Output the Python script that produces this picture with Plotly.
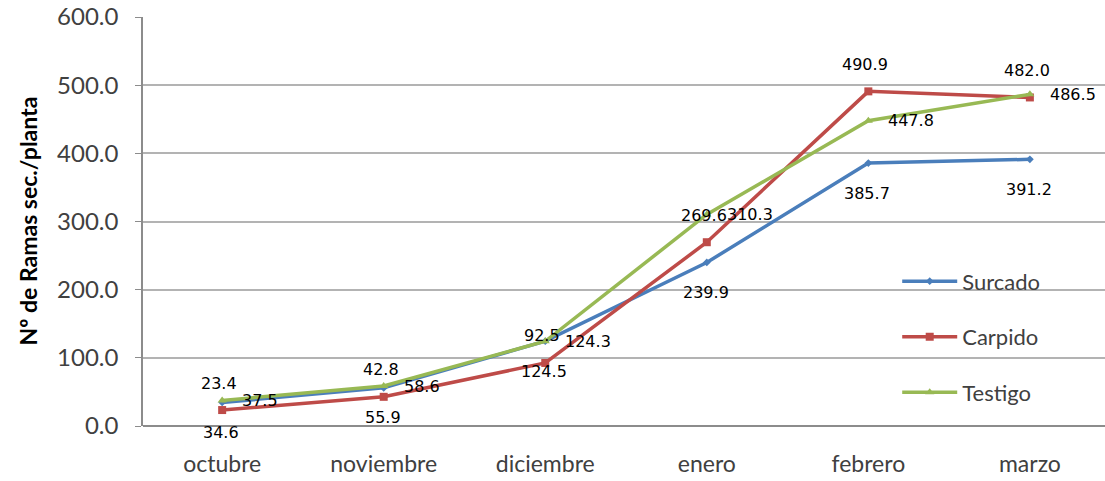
import plotly.graph_objects as go

meses = ["octubre", "noviembre", "diciembre", "enero", "febrero", "marzo"]
surcado = [34.6, 55.9, 124.5, 239.9, 385.7, 391.2]
carpido = [23.4, 42.8, 92.5, 269.6, 490.9, 482.0]
testigo = [37.5, 58.6, 124.3, 310.3, 447.8, 486.5]
y_ticks = [0, 100, 200, 300, 400, 500, 600]

BLUE = "#4a7ebb"
RED = "#be4b48"
GREEN = "#98b954"

fig = go.Figure()
series = [
    ("Surcado", surcado, BLUE, "diamond", 6),
    ("Carpido", carpido, RED, "square", 8),
    ("Testigo", testigo, GREEN, "triangle-up", 8),
]
for i, (name, vals, col, sym, ms) in enumerate(series):
    fig.add_trace(go.Scatter(
        x=meses, y=vals, name=name, mode="lines+markers",
        line=dict(color=col, width=3.5),
        marker=dict(symbol=sym, size=ms, color=col),
        legendgroup=f"g{i}",
    ))

ann = []
lab_font = dict(family="DejaVu Sans", size=16, color="#000000")
for m, v in zip(meses, carpido):
    ann.append(dict(x=m, y=v, text=f"{v:.1f}", showarrow=False, yshift=27,
                    xshift=-3, font=lab_font))
for m, v in zip(meses, surcado):
    ann.append(dict(x=m, y=v, text=f"{v:.1f}", showarrow=False, yshift=-30,
                    xshift=-1, font=lab_font))
for m, v in zip(meses, testigo):
    ann.append(dict(x=m, y=v, text=f"{v:.1f}", showarrow=False, xshift=18,
                    xanchor="left", font=lab_font))
ann.append(dict(xref="paper", yref="paper", x=-(143 - 27) / 962, y=0.5,
                text="<b>Nº de Ramas sec./planta</b>", textangle=-90,
                showarrow=False, xanchor="center", yanchor="middle",
                font=dict(family="Lato", size=23, color="#000000")))

fig.update_layout(
    width=1105, height=481,
    margin=dict(l=143, r=0, t=17, b=55),
    paper_bgcolor="white", plot_bgcolor="white",
    font=dict(family="Lato", size=24, color="#404040"),
    showlegend=True,
    legend=dict(x=0.784, y=0.405, xanchor="left", yanchor="top",
                bgcolor="rgba(0,0,0,0)", itemwidth=55, tracegroupgap=24,
                font=dict(family="Lato", size=22, color="#404040")),
    annotations=ann,
    xaxis=dict(range=[-0.49, 5.465], showgrid=False, showline=False,
               ticks="", ticklabelstandoff=22,
               tickfont=dict(family="Lato", size=23, color="#404040"),
               fixedrange=True),
    yaxis=dict(range=[0, 600], tickvals=y_ticks,
               ticktext=[f"{t:.1f}" for t in y_ticks],
               showgrid=True, gridcolor="#b3b3b3", gridwidth=1.5,
               showline=True, linecolor="#8c8c8c", linewidth=1.5,
               ticks="outside", ticklen=6, tickcolor="#8c8c8c",
               ticklabelstandoff=12,
               zeroline=True, zerolinecolor="#8c8c8c", zerolinewidth=1.5,
               tickfont=dict(family="Lato", size=24, color="#404040")),
)
fig.write_html("out.html")
